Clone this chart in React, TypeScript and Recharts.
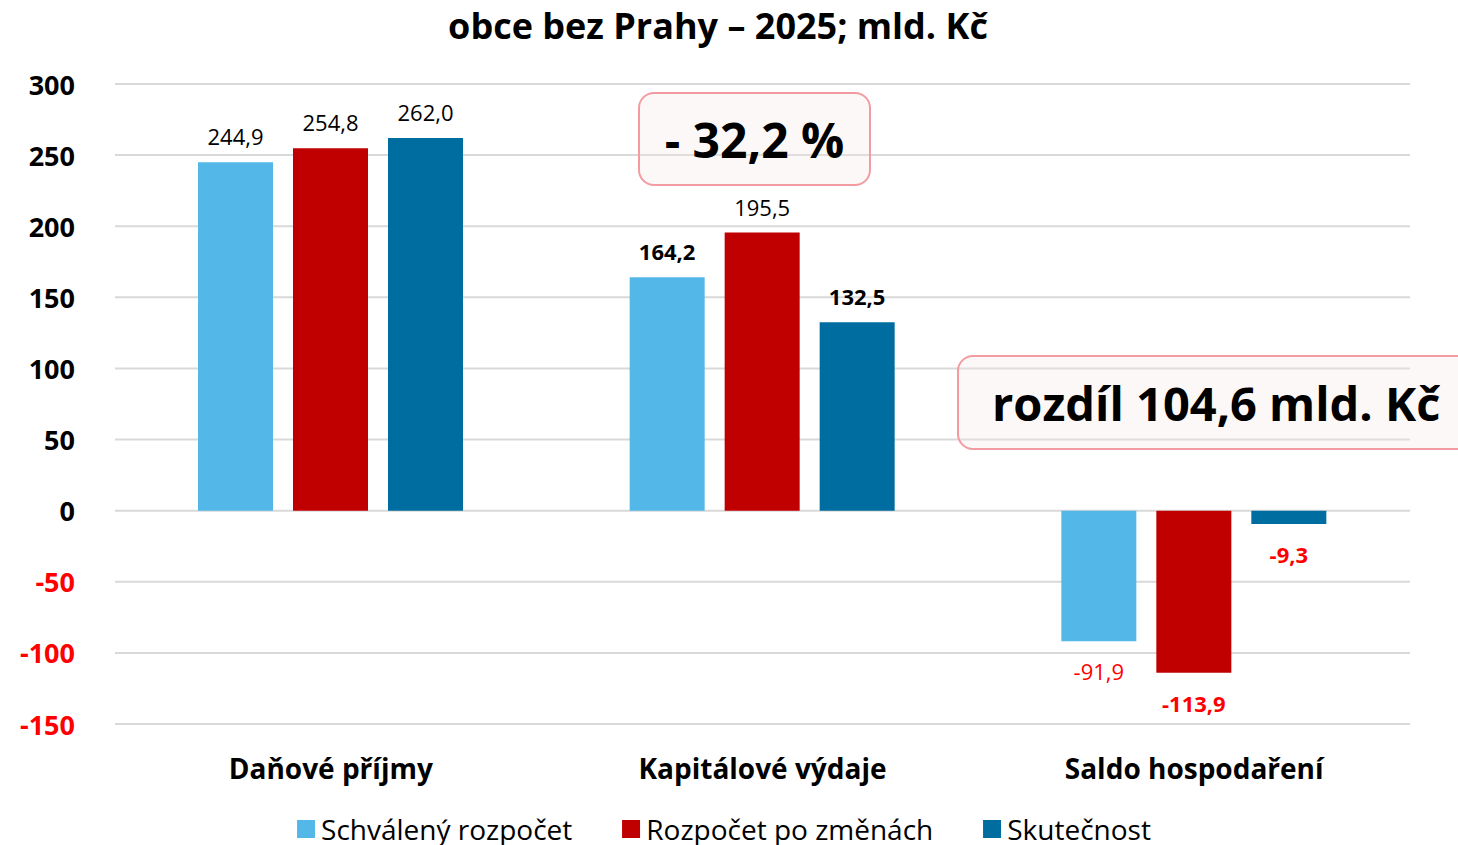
import React from "react";
import { BarChart, Bar, XAxis, YAxis, CartesianGrid, LabelList } from "recharts";

const categories = ["Daňové příjmy", "Kapitálové výdaje", "Saldo hospodaření"];
const schvaleny = [244.9, 164.2, -91.9];
const poZmenach = [254.8, 195.5, -113.9];
const skutecnost = [262.0, 132.5, -9.3];
const yTicks = [-150, -100, -50, 0, 50, 100, 150, 200, 250, 300];

const seriesKeys = ["schvaleny", "poZmenach", "skutecnost"];
const seriesNames = ["Schválený rozpočet", "Rozpočet po změnách", "Skutečnost"];
const seriesValues = [schvaleny, poZmenach, skutecnost];
const seriesColors = ["#53B7E8", "#C00000", "#006DA0"];
// which data labels are bold (per series, per category)
const boldLabels = [
  [false, true, false],
  [false, false, true],
  [false, true, true],
];

const FONT = "'Open Sans', 'Noto Sans', sans-serif";

const data = categories.map((name, i) => ({
  name,
  schvaleny: schvaleny[i],
  poZmenach: poZmenach[i],
  skutecnost: skutecnost[i],
}));

const fmt = (v: number) => v.toFixed(1).replace(".", ",");

const makeLabel = (s: number) => (props: any) => {
  const { x, y, width, height, value } = props;
  const v = Number(value);
  let idx = props.index;
  if (idx === undefined) idx = seriesValues[s].indexOf(v);
  const top = Math.min(Number(y), Number(y) + Number(height));
  const bottom = Math.max(Number(y), Number(y) + Number(height));
  const cx = Number(x) + Number(width) / 2;
  const ty = v < 0 ? bottom + 30 : top - 26;
  return (
    <text
      x={cx}
      y={ty}
      textAnchor="middle"
      dominantBaseline="central"
      fontFamily={FONT}
      fontSize={22}
      fontWeight={boldLabels[s][idx] ? 700 : 400}
      fill={v < 0 ? "#FF0000" : "#000000"}
    >
      {fmt(v)}
    </text>
  );
};

const YTick = (props: any) => {
  const { y, payload } = props;
  const v = payload.value;
  return (
    <text
      x={75}
      y={y}
      textAnchor="end"
      dominantBaseline="central"
      fontFamily={FONT}
      fontSize={27}
      fontWeight={700}
      fill={v < 0 ? "#FF0000" : "#000000"}
    >
      {v}
    </text>
  );
};

const XTick = (props: any) => {
  const { x, y, payload } = props;
  return (
    <text
      x={x}
      y={y + 36}
      textAnchor="middle"
      dominantBaseline="central"
      fontFamily={FONT}
      fontSize={28}
      fontWeight={700}
      fill="#000000"
    >
      {payload.value}
    </text>
  );
};

const boxStyle: React.CSSProperties = {
  position: "absolute",
  boxSizing: "border-box",
  border: "2px solid #F29CA2",
  borderRadius: 16,
  background: "rgba(248, 232, 232, 0.3)",
  display: "flex",
  alignItems: "center",
  justifyContent: "center",
  fontFamily: FONT,
  fontWeight: 700,
  color: "#000",
  whiteSpace: "nowrap",
};

export default function App() {
  return (
    <div
      style={{
        position: "absolute",
        left: 0,
        top: 0,
        width: 1458,
        height: 845,
        background: "#fff",
        overflow: "hidden",
      }}
    >
      <div
        style={{
          position: "absolute",
          left: 718,
          top: 25,
          transform: "translate(-50%, -50%)",
          fontFamily: FONT,
          fontWeight: 700,
          fontSize: 36,
          whiteSpace: "nowrap",
        }}
      >
        obce bez Prahy – 2025; mld. Kč
      </div>

      <BarChart
        width={1458}
        height={845}
        data={data}
        margin={{ top: 84, right: 48, bottom: 0, left: 0 }}
        barCategoryGap={83}
        barGap={20}
      >
        <CartesianGrid vertical={false} stroke="#D9D9D9" strokeWidth={2} />
        <XAxis
          dataKey="name"
          height={121}
          axisLine={false}
          tickLine={false}
          tick={<XTick />}
          interval={0}
        />
        <YAxis
          width={115}
          domain={[-150, 300]}
          ticks={yTicks}
          axisLine={false}
          tickLine={false}
          tick={<YTick />}
          interval={0}
        />
        {seriesKeys.map((k, s) => (
          <Bar key={k} dataKey={k} name={seriesNames[s]} fill={seriesColors[s]} isAnimationActive={false}>
            <LabelList dataKey={k} content={makeLabel(s)} />
          </Bar>
        ))}
      </BarChart>

      <div style={{ ...boxStyle, left: 638, top: 92, width: 233, height: 94, fontSize: 48 }}>
        - 32,2 %
      </div>
      <div style={{ ...boxStyle, left: 957, top: 355, width: 520, height: 95, fontSize: 47, justifyContent: "flex-start", paddingLeft: 33 }}>
        rozdíl 104,6 mld. Kč
      </div>

      <div
        style={{
          position: "absolute",
          left: 724,
          top: 829,
          transform: "translate(-50%, -50%)",
          display: "flex",
          gap: 50,
          fontFamily: FONT,
          fontSize: 28,
          lineHeight: "32px",
          whiteSpace: "nowrap",
        }}
      >
        {seriesNames.map((n, s) => (
          <div key={n} style={{ display: "flex", alignItems: "center", gap: 6 }}>
            <div style={{ width: 18, height: 18, background: seriesColors[s] }} />
            <span>{n}</span>
          </div>
        ))}
      </div>
    </div>
  );
}
